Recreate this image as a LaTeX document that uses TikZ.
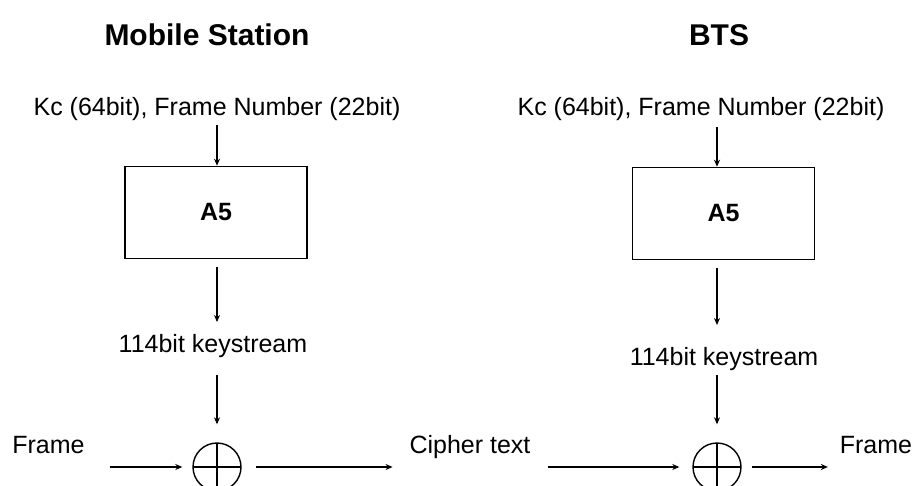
\documentclass[tikz,border=0pt]{standalone}
\usepackage{fontspec}
\setmainfont{Liberation Sans}
\usetikzlibrary{arrows.meta}
\begin{document}
\begin{tikzpicture}[x=1pt,y=-1pt,
  lbl/.style={inner sep=0pt, outer sep=0pt, anchor=base, text height=18pt, text depth=5pt, font=\fontsize{25}{30}\selectfont},
  ttl/.style={inner sep=0pt, anchor=base, font=\fontsize{30}{36}\selectfont\bfseries},
  algbox/.style={draw, line width=1.6pt, minimum width=182pt, minimum height=92pt, inner sep=0pt, font=\fontsize{25}{30}\selectfont\bfseries},
  xorc/.style={circle, draw, line width=1.4pt, minimum size=48pt, inner sep=0pt,
    path picture={\draw[line width=1.4pt] (path picture bounding box.north) -- (path picture bounding box.south)
      (path picture bounding box.west) -- (path picture bounding box.east);}},
  arr/.style={line width=1.5pt, -{Stealth[length=7pt,width=6pt]}}]
\useasboundingbox (0,0) rectangle (915,485);
% titles
\node[ttl] (ms) at (207,45) {Mobile Station};
\node[ttl] (bts) at (719,45) {BTS};
% left column
\node[lbl] (kc1) at (217,115) {Kc (64bit), Frame Number (22bit)};
\node[algbox] (box1) at (216,212.5) {A5};
\node[lbl] (ks1) at (213,352) {114bit keystream};
\node[xorc] (x1) at (217,467) {};
\node[lbl] (fr1) at (48.5,453) {Frame};
\node[lbl] (ct) at (470,453) {Cipher text};
% right column
\node[lbl] (kc2) at (701,115) {Kc (64bit), Frame Number (22bit)};
\node[algbox] (box2) at (723.5,213.5) {A5};
\node[lbl] (ks2) at (724,365) {114bit keystream};
\node[xorc] (x2) at (717,467) {};
\node[lbl] (fr2) at (876,453) {Frame};
% left arrows
\draw[arr, shorten <=5pt] (kc1.south -| x1.north) -- (box1.north -| x1.north);
\draw[arr, shorten <=8pt, shorten >=12pt] (box1.south -| x1.north) -- (ks1.north -| x1.north);
\draw[arr, shorten <=18pt, shorten >=18pt] (ks1.south -| x1.north) -- (x1.north);
\draw[arr, shorten <=25pt, shorten >=10pt] (fr1.east |- x1.west) -- (x1.west);
\draw[arr, shorten <=14pt, shorten >=17pt] (x1.east) -- (ct.west |- x1.east);
% right arrows
\draw[arr, shorten <=18pt, shorten >=13pt] (ct.east |- x2.west) -- (x2.west);
\draw[arr, shorten <=10pt, shorten >=12pt] (x2.east) -- (fr2.west |- x2.east);
\draw[arr, shorten <=7pt] (kc2.south -| x2.north) -- (box2.north -| x2.north);
\draw[arr, shorten <=8pt, shorten >=22pt] (box2.south -| x2.north) -- (ks2.north -| x2.north);
\draw[arr, shorten <=5pt, shorten >=18pt] (ks2.south -| x2.north) -- (x2.north);
\end{tikzpicture}
\end{document}
